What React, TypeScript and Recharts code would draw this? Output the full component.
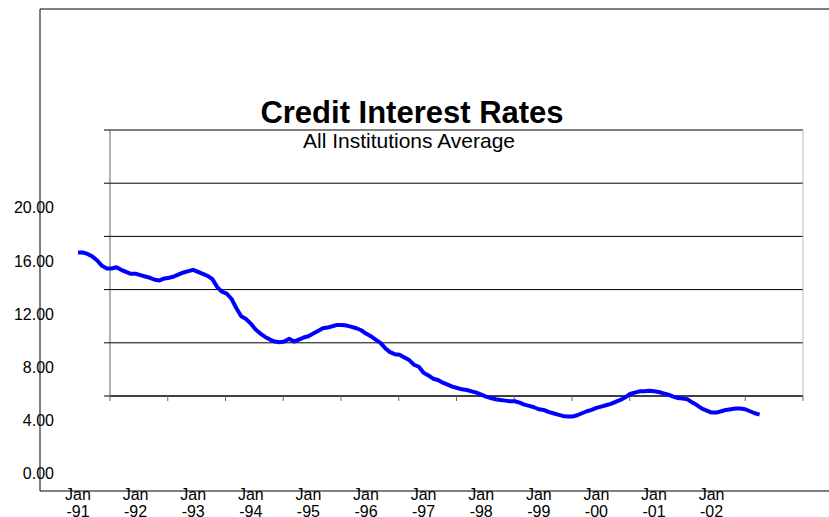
import React from 'react';
import { LineChart, Line, XAxis, YAxis, CartesianGrid } from 'recharts';

// monthly average credit rate, Jan-91 onwards
const rates = [
  16.6, 16.6, 16.5, 16.3, 16.0, 15.6, 15.4, 15.4, 15.5, 15.3,
  15.15, 15.0, 15.0, 14.9, 14.8, 14.7, 14.55, 14.5, 14.65, 14.7,
  14.8, 14.95, 15.1, 15.2, 15.3, 15.15, 15.0, 14.85, 14.6, 14.0,
  13.65, 13.5, 13.1, 12.4, 11.8, 11.6, 11.25, 10.8, 10.5, 10.25,
  10.05, 9.9, 9.85, 9.9, 10.1, 9.9, 10.05, 10.2, 10.3, 10.5,
  10.7, 10.9, 10.95, 11.05, 11.15, 11.15, 11.1, 11.0, 10.9, 10.75,
  10.5, 10.3, 10.05, 9.8, 9.4, 9.1, 8.95, 8.9, 8.7, 8.5,
  8.15, 8.0, 7.55, 7.35, 7.1, 7.0, 6.8, 6.65, 6.5, 6.4,
  6.3, 6.25, 6.15, 6.05, 5.9, 5.75, 5.65, 5.55, 5.5, 5.45,
  5.4, 5.4, 5.3, 5.15, 5.05, 4.95, 4.8, 4.75, 4.6, 4.5,
  4.4, 4.3, 4.25, 4.25, 4.35, 4.5, 4.65, 4.75, 4.9, 5.0,
  5.1, 5.2, 5.35, 5.5, 5.7, 5.95, 6.05, 6.15, 6.15, 6.2,
  6.15, 6.1, 6.0, 5.9, 5.75, 5.65, 5.6, 5.55, 5.3, 5.1,
  4.85, 4.7, 4.55, 4.55, 4.65, 4.75, 4.8, 4.85, 4.85, 4.8,
  4.65, 4.5, 4.4,
];

const yearLabels = ['-91', '-92', '-93', '-94', '-95', '-96', '-97', '-98', '-99', '-00', '-01', '-02'];
const yTicks = [0, 4, 8, 12, 16, 20];

// inner frame: 12 yearly intervals, 5 gridline bands
const frameCols = [0, 1, 2, 3, 4, 5, 6, 7, 8, 9, 10, 11, 12];
const frameRows = [0, 1, 2, 3, 4, 5];

const data = rates.map((rate, m) => ({ m, rate }));
const frameData = frameCols.map(c => ({ c, base: 0 }));
const janTicks = yearLabels.map((_, i) => i * 12);

// the outer axes run past the labelled range, as in the original
const xDomain = [(40 - 78) / 4.8, (829 - 78) / 4.8];
const yDomain = [(473 - 491) / 13.28, (473 - 9) / 13.28];

const FONT = '"Liberation Sans", Arial, sans-serif';

const XTick = ({ x, y, payload }: any) => {
  const label = yearLabels[Math.round(payload.value / 12)];
  return (
    <g>
      <text x={x} y={y + 9} textAnchor="middle" fontSize={16} fontFamily={FONT} fill="#000">Jan</text>
      <text x={x} y={y + 26} textAnchor="middle" fontSize={16} fontFamily={FONT} fill="#000">{label}</text>
    </g>
  );
};

const YTick = ({ x, y, payload }: any) => (
  <text x={x + 14} y={y} dy={6} textAnchor="end" fontSize={16} fontFamily={FONT} fill="#000">
    {payload.value.toFixed(2)}
  </text>
);

// frame ticks carry no labels, only the tick marks
const NoLabel = () => <g />;

export default function App() {
  return (
    <div style={{ position: 'absolute', left: 0, top: 0, width: 829, height: 517, background: '#fff', overflow: 'hidden' }}>
      <div style={{ position: 'absolute', left: 0, top: 0 }}>
        <LineChart width={829} height={517} data={frameData} margin={{ top: 130, right: 25, bottom: 120, left: 109 }}>
          <CartesianGrid vertical={false} stroke="#000" horizontalValues={frameRows} />
          <XAxis dataKey="c" type="number" domain={[0, 12]} allowDataOverflow ticks={frameCols} interval={0} height={1}
            tick={<NoLabel />} tickSize={5} tickLine={{ stroke: '#666' }} axisLine={{ stroke: '#000' }} />
          <YAxis type="number" domain={[0, 5]} allowDataOverflow ticks={frameRows} interval={0} width={1}
            tick={<NoLabel />} tickSize={6} tickLine={{ stroke: '#000' }} axisLine={{ stroke: '#666' }} />
          <YAxis yAxisId="r" orientation="right" type="number" domain={[0, 5]} allowDataOverflow width={1}
            tick={false} tickLine={false} axisLine={{ stroke: '#bbb' }} />
          <Line dataKey="base" stroke="none" dot={false} isAnimationActive={false} />
          <Line dataKey="base" yAxisId="r" stroke="none" dot={false} isAnimationActive={false} />
        </LineChart>
      </div>
      <div style={{ position: 'absolute', left: 0, top: 0 }}>
        <LineChart width={829} height={517} data={data} margin={{ top: 8, right: 0, bottom: 0, left: 0 }}>
          <XAxis dataKey="m" type="number" domain={xDomain} allowDataOverflow ticks={janTicks} interval={0}
            height={26} tickSize={0} tickMargin={0} tickLine={false} tick={<XTick />} axisLine={{ stroke: '#000' }} />
          <XAxis xAxisId="top" orientation="top" dataKey="m" type="number" domain={xDomain} allowDataOverflow
            height={1} tick={false} tickLine={false} axisLine={{ stroke: '#000' }} />
          <YAxis type="number" domain={yDomain} allowDataOverflow ticks={yTicks} interval={0}
            width={40} tickSize={0} tickMargin={0} tickLine={false} tick={<YTick />} axisLine={{ stroke: '#000' }} />
          <Line dataKey="rate" xAxisId="top" stroke="none" dot={false} isAnimationActive={false} />
          <Line dataKey="rate" type="linear" stroke="#0000ff" strokeWidth={4} strokeLinejoin="round"
            dot={false} isAnimationActive={false} />
        </LineChart>
      </div>
      <svg width={829} height={517} style={{ position: 'absolute', left: 0, top: 0, pointerEvents: 'none' }}>
        <text x={412} y={123} textAnchor="middle" fontSize={31} fontWeight="bold" fontFamily={FONT} fill="#000">
          Credit Interest Rates
        </text>
        <text x={409} y={148} textAnchor="middle" fontSize={21} fontFamily={FONT} fill="#000">
          All Institutions Average
        </text>
      </svg>
    </div>
  );
}
